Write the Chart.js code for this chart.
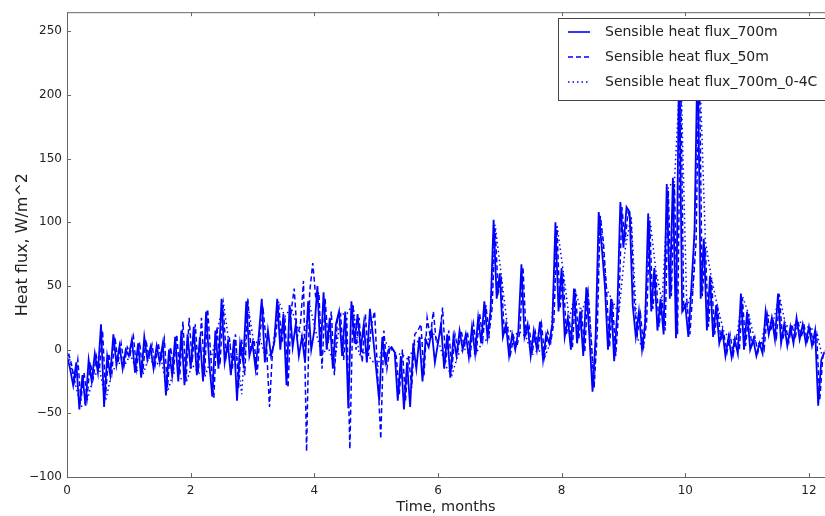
<!DOCTYPE html>
<html>
<head>
<meta charset="utf-8">
<script src="https://cdn.jsdelivr.net/npm/chart.js@4"></script>
<style>
  html, body { margin: 0; padding: 0; background: #fff; }
  #wrap { width: 825px; height: 516px; }
</style>
</head>
<body>
<div id="wrap"><canvas id="fluxChart" width="825" height="516"></canvas></div>
<script>
// time grid of the model output, months
const STEP = 0.05;
const STEP_COARSE = 0.1;
// the 50m and 0-4C records are sampled half a step later than the 700m one
const OFFSET = 0.025;

// sensible heat flux at 700 m, W/m^2 (one value every 0.05 month)
const flux700 = [
  -5, -15, -28, -10, -47, -20, -44, -8, -25, -3, -18, 20, -45, -5, -20, 12, -12, 3, -15, 0,
  -5, 8, -18, 5, -22, 10, -8, 2, -15, 3, -10, 5, -36, 0, -20, 10, -25, 15, -28, 12,
  -15, 18, -20, 10, -25, 30, -10, -37, 15, -15, 40, -10, 5, -20, 8, -40, 5, -10, 38, -5,
  5, -15, 10, 40, -10, 15, -5, 5, 40, 0, 28, -28, 35, 2, 20, -5, 10, -10, 38, 0,
  15, 50, -5, 45, 0, 25, -15, 20, 30, -5, 30, -46, 38, 5, 28, 0, 20, -10, 32, 10,
  -15, -40, 10, -10, 0, 2, -2, -40, -5, -47, -10, -45, 5, -15, 10, -25, 8, 2, 15, -10,
  5, 20, -15, 12, -22, 10, -5, 15, 0, 12, -6, 18, -3, 25, 5, 38, 10, 30, 102, 40,
  60, 10, 20, -5, 12, 0, 15, 67, 10, 20, -5, 15, 0, 22, -8, 12, 5, 20, 100, 30,
  64, 10, 25, 0, 48, 5, 30, -5, 49, 10, -33, 10, 108, 80, 50, 0, 40, -9, 30, 116,
  80, 112, 108, 35, 10, 30, 0, 20, 107, 30, 64, 15, 40, 12, 130, 40, 135, 9, 230, 30,
  35, 10, 50, 93, 240, 40, 87, 15, 58, 10, 35, 5, 15, -5, 10, -6, 8, -3, 44, 0,
  30, 0, 8, -5, 5, -3, 30, 12, 25, 8, 44, 5, 20, 3, 18, 5, 25, 8, 20, 5,
  18, 3, 15, -44, -8, -2
];

// sensible heat flux at 50 m (one value every 0.05 month, offset grid)
const flux50 = [
  -3, -12, -25, -8, -40, -18, -38, -10, -22, -5, -15, 15, -35, -3, -18, 10, -10, 5, -12, 2,
  -3, 10, -15, 6, -18, 8, -6, 4, -12, 5, -8, 8, -30, 2, -15, 12, -20, 22, -25, 25,
  -10, 20, -18, 25, -20, 32, -5, -38, 18, -12, 35, -5, 10, -15, 12, -30, 8, -20, 40, 0,
  8, -20, 15, 30, 5, -45, 0, 10, 35, 5, 25, -30, 30, 48, 10, 20, 54, -80, 45, 68,
  40, 45, -15, 40, 5, 30, -20, 25, 28, -8, 25, -78, 35, 0, 25, -10, 28, -5, 20, 30,
  -20, -70, 15, -15, 2, 0, -5, -35, 0, -40, -5, -30, 12, 15, 20, -20, 25, 10, 30, 5,
  10, 33, -10, 15, -15, 12, 0, 15, 2, 14, -3, 20, 0, 28, 8, 35, 12, 32, 95, 45,
  55, 12, 18, -3, 10, 2, 14, 65, 12, 18, -3, 14, 2, 20, -5, 14, 6, 22, 95, 32,
  60, 12, 23, 2, 45, 8, 28, -2, 47, 12, -30, 12, 105, 85, 48, 2, 38, -5, 32, 112,
  85, 108, 100, 38, 12, 28, 3, 22, 100, 32, 60, 18, 38, 15, 125, 42, 130, 12, 220, 32,
  38, 12, 48, 85, 235, 42, 80, 18, 55, 12, 32, 8, 12, -2, 12, -4, 10, 0, 40, 3,
  28, 3, 10, -2, 7, 0, 28, 14, 22, 10, 40, 8, 18, 6, 20, 8, 22, 10, 18, 7,
  16, 5, 12, -40, -5, 0
];

// sensible heat flux at 700 m for the 0-4C layer (one value every 0.1 month, offset grid)
const flux700cold = [
  -4, -25, -45, -40, -22, -15, -40, -18, -10, -13,
  -4, -16, -20, -6, -13, -8, -33, -18, -22, -26,
  -12, -18, -22, -8, 12, 38, 4, 6, -35, 36,
  4, 8, -8, 0, 38, 26, 33, 18, 8, 35,
  14, -4, 2, -13, 28, 28, 36, -4, -2, -8,
  -14, 8, 1, -3, -4, -8, 4, 9, 7, 13,
  4, -13, -20, -4, 1, -5, -2, 6, 9, 98,
  58, 18, 11, 14, 10, -4, 0, -6, 6, 98,
  62, 24, 46, 28, 47, -30, 105, 48, 38, 28,
  78, 105, 9, 0, 104, 62, 38, 128, 132, 225,
  33, 48, 235, 85, 56, 33, 14, 9, 7, 42,
  28, 7, 4, 28, 23, 42, 19, 17, 23, 19,
  17, 14, -7
];

const seriesNames = ["Sensible heat flux_700m", "Sensible heat flux_50m", "Sensible heat flux_700m_0-4C"];
const xTicks = [0, 2, 4, 6, 8, 10, 12];
const yTicks = [-100, -50, 0, 50, 100, 150, 200, 250];
const xRange = [0, 12.26];
const yRange = [-100, 265];

const BLUE = "#0000ff";
const FRAME = "#666";
const FONT = "'DejaVu Sans', sans-serif";

function toPoints(values, step, offset) {
  return values.map((v, i) => ({ x: +(offset + i * step).toFixed(3), y: v }));
}

const dashes = [[], [5, 3], [1.5, 3]];

// axes box, inward tick marks and the boxed legend
const framePlugin = {
  id: "frame",
  afterDatasetsDraw(chart) {
    const { ctx, chartArea: a, scales } = chart;
    ctx.save();
    ctx.strokeStyle = FRAME;
    ctx.lineWidth = 1;
    ctx.beginPath();
    ctx.moveTo(a.left + 0.5, a.bottom + 0.5);
    ctx.lineTo(a.left + 0.5, a.top + 0.5);
    ctx.lineTo(a.right + 2, a.top + 0.5);
    ctx.moveTo(a.left + 0.5, a.bottom + 0.5);
    ctx.lineTo(a.right + 2, a.bottom + 0.5);
    ctx.stroke();

    ctx.beginPath();
    xTicks.forEach((v) => {
      const px = Math.round(scales.x.getPixelForValue(v)) + 0.5;
      ctx.moveTo(px, a.bottom);
      ctx.lineTo(px, a.bottom - 4);
      ctx.moveTo(px, a.top);
      ctx.lineTo(px, a.top + 4);
    });
    yTicks.forEach((v) => {
      const py = Math.round(scales.y.getPixelForValue(v)) + 0.5;
      ctx.moveTo(a.left, py);
      ctx.lineTo(a.left + 4, py);
    });
    ctx.stroke();

    // legend
    const bx = 558.5, by = 18.5, bw = 280, bh = 82;
    ctx.fillStyle = "#fff";
    ctx.fillRect(bx, by, bw, bh);
    ctx.strokeStyle = "#444";
    ctx.strokeRect(bx, by, bw, bh);
    ctx.font = "14px " + FONT;
    ctx.textBaseline = "middle";
    seriesNames.forEach((name, i) => {
      const y = 32 + i * 25;
      ctx.strokeStyle = BLUE;
      ctx.lineWidth = 1.6;
      ctx.setLineDash(dashes[i]);
      ctx.beginPath();
      ctx.moveTo(568, y);
      ctx.lineTo(590, y);
      ctx.stroke();
      ctx.setLineDash([]);
      ctx.fillStyle = "#222";
      ctx.fillText(name, 605, y);
    });
    ctx.restore();
  }
};

const ctx = document.getElementById("fluxChart").getContext("2d");
new Chart(ctx, {
  type: "line",
  data: {
    datasets: [
      { label: seriesNames[0], data: toPoints(flux700, STEP, 0), borderWidth: 1.8 },
      { label: seriesNames[1], data: toPoints(flux50, STEP, OFFSET), borderDash: dashes[1], borderWidth: 1.5 },
      { label: seriesNames[2], data: toPoints(flux700cold, STEP_COARSE, OFFSET), borderDash: dashes[2], borderWidth: 1.5 }
    ].map((d) => ({
      ...d,
      borderColor: BLUE,
      pointRadius: 0,
      tension: 0,
      fill: false
    }))
  },
  options: {
    responsive: false,
    animation: false,
    events: [],
    layout: { padding: { top: 8, right: 0, left: 0, bottom: 0 } },
    plugins: { legend: { display: false }, tooltip: { enabled: false } },
    scales: {
      x: {
        type: "linear",
        min: xRange[0],
        max: xRange[1],
        afterBuildTicks: (s) => { s.ticks = xTicks.map((v) => ({ value: v })); },
        afterFit: (s) => { s.height = 39; },
        grid: { display: false, drawTicks: false },
        border: { display: false },
        ticks: { color: "#222", font: { family: FONT, size: 12 }, padding: 7, maxRotation: 0 },
        title: { display: true, text: "Time, months", color: "#222", font: { family: FONT, size: 14.5 }, padding: { top: 0, bottom: 0 } }
      },
      y: {
        type: "linear",
        min: yRange[0],
        max: yRange[1],
        afterBuildTicks: (s) => { s.ticks = yTicks.map((v) => ({ value: v })); },
        afterFit: (s) => { s.width = 67; },
        grid: { display: false, drawTicks: false },
        border: { display: false },
        ticks: {
          color: "#222",
          font: { family: FONT, size: 12 },
          padding: 5,
          callback: (v) => (v < 0 ? "\u2212" + Math.abs(v) : String(v))
        },
        title: { display: true, text: "Heat flux, W/m^2", color: "#222", font: { family: FONT, size: 16 }, padding: { top: 13, bottom: 0 } }
      }
    }
  },
  plugins: [framePlugin]
});
</script>
</body>
</html>
